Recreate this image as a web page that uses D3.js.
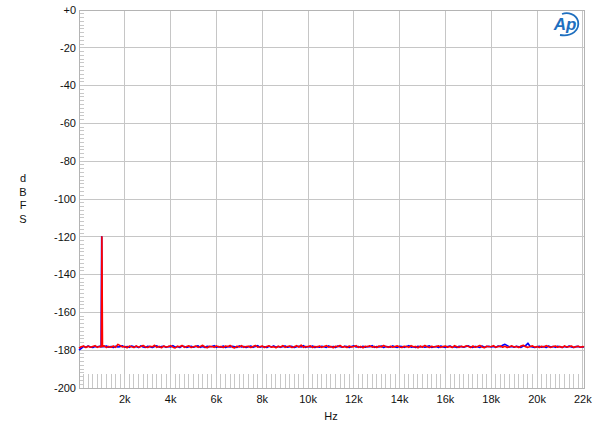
<!DOCTYPE html>
<html><head><meta charset="utf-8">
<script src="https://cdn.jsdelivr.net/npm/d3@7/dist/d3.min.js"></script>
<style>body{margin:0;background:#fff}svg{display:block}text{font-family:Arial,"Liberation Sans",sans-serif}</style>
</head><body><svg id="c" width="600" height="430"></svg>
<script>
const yTicks = [0,-20,-40,-60,-80,-100,-120,-140,-160,-180,-200];
const yTickLabels = ["+0","-20","-40","-60","-80","-100","-120","-140","-160","-180","-200"];
const xTicks = [2000,4000,6000,8000,10000,12000,14000,16000,18000,20000,22000];
const xTickLabels = ["2k","4k","6k","8k","10k","12k","14k","16k","18k","20k","22k"];
const noiseFreqs = d3.range(0, 22001, 100).concat([22050]);
const redNoise = [
-178.9,-178.2,-177.8,-178.6,-177.9,-178.4,-178.0,-177.6,-178.5,-178.1,
-178.3,-177.7,-178.6,-178.0,-178.4,-177.8,-178.5,-176.9,-177.6,-178.3,
-178.0,-178.7,-177.8,-178.2,-178.6,-177.7,-178.4,-178.0,-177.5,-178.3,
-178.6,-177.9,-178.2,-177.4,-178.5,-178.0,-178.7,-177.8,-178.3,-178.1,
-177.6,-178.4,-178.8,-177.9,-178.2,-177.5,-178.5,-178.0,-177.7,-178.6,
-178.2,-177.8,-178.5,-178.0,-177.4,-178.3,-178.7,-177.9,-178.1,-178.5,
-177.7,-178.3,-178.0,-178.6,-177.8,-178.2,-177.5,-178.4,-178.8,-177.9,
-178.3,-177.6,-178.5,-178.1,-177.9,-178.6,-178.0,-177.5,-178.4,-178.2,
-177.8,-178.6,-178.0,-177.7,-178.4,-178.1,-178.7,-177.9,-178.3,-177.6,
-178.5,-178.0,-177.8,-178.6,-178.2,-177.6,-178.4,-177.3,-178.5,-178.0,
-178.2,-177.7,-178.6,-178.0,-178.3,-177.8,-178.5,-178.1,-177.6,-178.4,
-178.0,-178.7,-177.9,-178.2,-177.5,-178.4,-178.0,-178.6,-177.8,-178.3,
-178.1,-177.6,-178.5,-178.0,-178.7,-177.9,-178.2,-177.7,-178.4,-178.0,
-178.6,-177.8,-178.3,-177.5,-178.1,-178.5,-177.9,-178.4,-178.0,-177.7,
-178.3,-178.6,-177.9,-178.1,-178.5,-177.6,-178.2,-178.0,-178.7,-177.8,
-178.4,-177.5,-178.2,-178.6,-177.9,-178.3,-178.0,-177.7,-178.5,-178.1,
-177.8,-178.4,-178.0,-178.6,-177.6,-178.2,-178.5,-177.9,-178.3,-177.7,
-178.1,-178.6,-177.8,-178.4,-178.0,-177.5,-178.3,-178.7,-177.9,-178.2,
-178.0,-177.6,-178.5,-178.1,-177.8,-178.4,-177.9,-178.6,-178.2,-177.7,
-178.3,-178.0,-178.6,-177.8,-177.4,-178.2,-178.5,-178.0,-177.7,-178.4,
-178.1,-178.6,-177.9,-178.3,-177.6,-178.2,-178.5,-178.0,-177.8,-178.4,
-178.0,-178.6,-177.7,-178.3,-178.1,-177.8,-178.5,-178.2,-177.9,-178.4,
-178.1,-178.3];
const blueNoise = [
-179.9,-179.0,-178.0,-178.4,-177.8,-178.3,-178.6,-178.0,-178.2,-177.9,
-178.5,-178.1,-177.8,-178.4,-178.0,-178.6,-177.9,-178.3,-178.1,-177.7,
-178.4,-178.0,-178.5,-177.8,-178.2,-178.0,-178.6,-177.7,-178.3,-178.5,
-177.9,-178.2,-178.6,-178.0,-177.7,-178.4,-178.1,-177.9,-178.5,-178.0,
-178.3,-177.6,-178.4,-178.1,-178.6,-177.8,-178.0,-178.5,-178.2,-177.9,
-178.4,-178.0,-177.7,-178.5,-178.1,-178.6,-177.9,-178.2,-178.0,-177.6,
-178.5,-178.1,-178.4,-177.8,-178.6,-178.0,-178.3,-177.9,-178.2,-178.5,
-177.7,-178.3,-178.0,-178.6,-178.2,-177.8,-178.5,-178.1,-177.6,-178.4,
-178.0,-178.2,-178.6,-177.9,-178.3,-177.7,-178.4,-178.0,-178.5,-178.1,
-177.8,-178.4,-178.1,-178.0,-178.6,-178.2,-177.9,-178.3,-177.6,-178.5,
-178.0,-178.3,-177.8,-178.6,-178.1,-178.4,-177.9,-178.2,-178.5,-177.7,
-178.3,-178.0,-178.6,-177.8,-178.2,-178.4,-177.9,-178.1,-178.6,-178.0,
-177.7,-178.3,-178.1,-178.5,-177.9,-178.4,-178.0,-178.2,-177.6,-178.5,
-178.1,-178.3,-177.8,-178.6,-178.0,-178.2,-178.4,-177.7,-178.3,-178.5,
-177.9,-178.1,-178.5,-178.0,-177.6,-178.4,-178.2,-178.6,-177.9,-178.3,
-178.0,-178.4,-178.1,-177.7,-178.5,-178.2,-178.0,-178.6,-177.8,-178.3,
-178.5,-178.0,-177.8,-178.4,-178.2,-178.6,-177.9,-178.1,-178.4,-178.0,
-177.7,-178.3,-178.5,-178.0,-178.2,-178.6,-177.8,-178.4,-178.1,-177.9,
-178.3,-178.0,-178.5,-177.8,-178.2,-177.4,-176.9,-177.6,-178.3,-178.0,
-178.4,-177.9,-178.2,-178.5,-177.8,-177.6,-176.3,-178.0,-178.3,-178.6,
-178.2,-177.9,-178.4,-178.0,-178.6,-177.8,-178.3,-178.1,-178.5,-177.9,
-178.2,-178.5,-178.0,-178.4,-177.8,-178.3,-178.6,-178.1,-178.0,-178.4,
-178.2,-178.5];
const redSpike = [[975,-178.2],[1000,-120.0],[1025,-178.0]];
const blueSpike = [[965,-178.3],[990,-120.0],[1015,-178.1]];

const svg = d3.select("#c");
const L = 79, R = 584, T = 10, B = 388;
const x = d3.scaleLinear().domain([0, 22050]).range([L, R]);
const y = d3.scaleLinear().domain([0, -200]).range([T, B]);

// grid
svg.append("g").selectAll("line").data(yTicks).join("line")
  .attr("x1", L).attr("x2", R).attr("y1", d => y(d)).attr("y2", d => y(d))
  .attr("stroke", "#c6c6c6").attr("stroke-width", 1).attr("shape-rendering","crispEdges");
svg.append("g").selectAll("line").data(xTicks).join("line")
  .attr("x1", d => x(d)).attr("x2", d => x(d)).attr("y1", T).attr("y2", B)
  .attr("stroke", "#c6c6c6").attr("stroke-width", 1).attr("shape-rendering","crispEdges");

// minor ticks
const yMinor = d3.range(0, -201, -2);
svg.append("g").selectAll("line").data(yMinor).join("line")
  .attr("x1", L).attr("x2", L + 5).attr("y1", d => y(d)).attr("y2", d => y(d))
  .attr("stroke", "#c8c8c8").attr("shape-rendering","crispEdges");
const xMinor = d3.range(200, 22050, 200);
svg.append("g").selectAll("line").data(xMinor).join("line")
  .attr("x1", d => x(d)).attr("x2", d => x(d)).attr("y1", B - 14).attr("y2", B)
  .attr("stroke", "#c8c8c8").attr("shape-rendering","crispEdges");

// frame
svg.append("rect").attr("x", L).attr("y", T).attr("width", R - L).attr("height", B - T)
  .attr("fill", "none").attr("stroke", "#b4b4b4").attr("shape-rendering","crispEdges");

// axes labels
svg.append("g").selectAll("text").data(yTicks).join("text")
  .attr("x", 76).attr("y", d => y(d)).attr("dy", "0.35em").attr("text-anchor", "end")
  .attr("font-size", 11).attr("fill", "#111").text((d, i) => yTickLabels[i]);
svg.append("g").selectAll("text").data(xTicks).join("text")
  .attr("x", d => x(d)).attr("y", 403).attr("text-anchor", "middle")
  .attr("font-size", 11).attr("fill", "#111").text((d, i) => xTickLabels[i]);
svg.append("text").attr("x", 331).attr("y", 420).attr("text-anchor", "middle")
  .attr("font-size", 11).attr("fill", "#111").text("Hz");
["d","B","F","S"].forEach((c, i) => {
  svg.append("text").attr("x", 23).attr("y", 182 + i * 13.5).attr("text-anchor", "middle")
    .attr("font-size", 11).attr("fill", "#111").text(c);
});

// series
function build(vals, spike) {
  const pts = noiseFreqs.map((f, i) => [f, vals[i]]).filter(p => Math.abs(p[0] - 1000) > 40);
  return pts.concat(spike).sort((a, b) => a[0] - b[0]);
}
const line = d3.line().x(d => x(d[0])).y(d => y(d[1]));
const g = svg.append("g");
g.append("path").attr("d", line(build(blueNoise, blueSpike))).attr("fill", "none")
  .attr("stroke", "#0000ff").attr("stroke-width", 1.6).attr("stroke-linejoin","round");
g.append("path").attr("d", line(build(redNoise, redSpike))).attr("fill", "none")
  .attr("stroke", "#ff0000").attr("stroke-width", 1.6).attr("stroke-linejoin","round");

// logo
const lg = svg.append("g").attr("transform", "translate(566,24)");
lg.append("text").attr("x", -1).attr("y", 6).attr("text-anchor", "middle")
  .attr("font-size", 17).attr("font-style", "italic").attr("font-weight", "bold")
  .attr("fill", "#1e6fbf").text("Ap");
lg.append("path").attr("d", "M-6,11 C6,13 14,6 12,-3 C10,-10 2,-12 -4,-10")
  .attr("fill", "none").attr("stroke", "#1e6fbf").attr("stroke-width", 1.8);
</script></body></html>
